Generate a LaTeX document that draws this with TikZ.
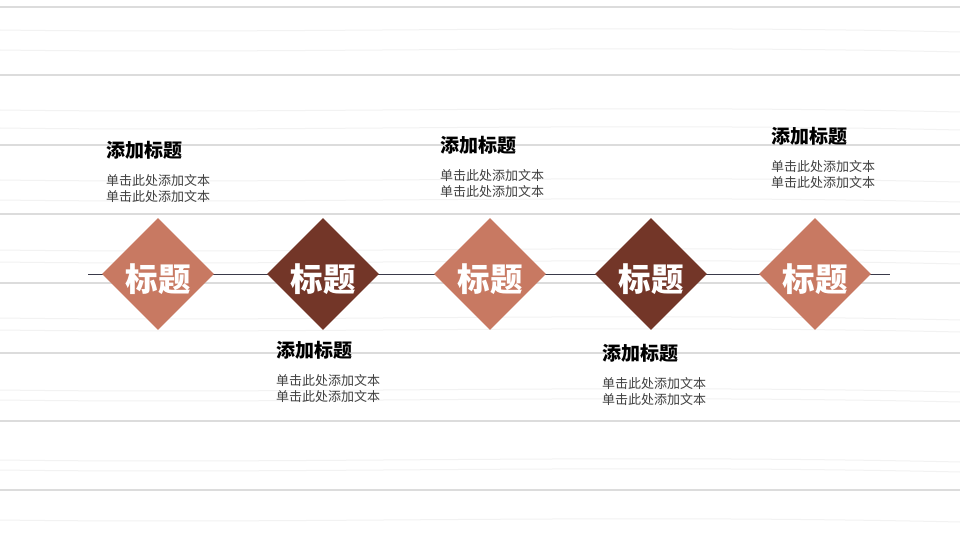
\documentclass[tikz,border=0pt]{standalone}
\usepackage{fontspec}
\setmainfont{Noto Sans CJK SC}
\usetikzlibrary{shapes.geometric}
\definecolor{lightd}{HTML}{C87962}
\definecolor{darkd}{HTML}{733628}
\definecolor{plank}{HTML}{DCDCDC}
\definecolor{grain}{HTML}{F2F2F2}
\definecolor{bodytxt}{HTML}{404040}
\definecolor{axis}{HTML}{3A3A4A}
\tikzset{
  diam/.style={diamond, minimum width=112pt, minimum height=112pt, inner sep=0pt, draw=none},
  dtxt/.style={inner sep=0pt, text=white, font=\fontsize{32.5}{33}\selectfont\bfseries},
  ttl/.style={anchor=west, inner sep=0pt, font=\fontsize{19}{20}\selectfont\bfseries, text=black},
  bdy/.style={anchor=north west, inner sep=0pt, align=left, text=bodytxt,
    font=\fontsize{13}{16}\selectfont},
  plankline/.style={plank, line width=1.6pt},
  grainline/.style={grain, line width=1pt},
  axisline/.style={axis, line width=0.8pt}
}
\begin{document}
\begin{tikzpicture}[x=1pt,y=-1pt]
\fill[white] (0,0) rectangle (960,540);
\useasboundingbox (0,0) rectangle (960,540);
% wood grain
\foreach \y in {30,50,110,128,180,200,250,262,318,330,390,400,460,470,520}
  \draw[grainline] (0,\y) .. controls (300,\y+4) and (600,\y-6) .. (960,\y+2);
\foreach \y in {7,75,145,214,283,353,421,490}
  \draw[plankline] (0,\y) -- (960,\y);
% axis
\coordinate (L) at (88,274);
\coordinate (R) at (890,274);
\draw[axisline] (L) -- (R);
% diamonds
\node[diam, fill=lightd] (d1) at (158,274) {};
\node[diam, fill=darkd] (d2) at (323,274) {};
\node[diam, fill=lightd] (d3) at (490,274) {};
\node[diam, fill=darkd] (d4) at (651,274) {};
\node[diam, fill=lightd] (d5) at (815,274) {};
\foreach \i in {1,...,5}
  \node[dtxt] (l\i) at ([yshift=-5pt]d\i.center) {标题};
% texts
\node[ttl] (t1) at (106,150) {添加标题};
\node[bdy] (b1) at (106,174) {单击此处添加文本\\单击此处添加文本};
\node[ttl] (t2) at (276,350) {添加标题};
\node[bdy] (b2) at (276,374) {单击此处添加文本\\单击此处添加文本};
\node[ttl] (t3) at (440,145) {添加标题};
\node[bdy] (b3) at (440,169) {单击此处添加文本\\单击此处添加文本};
\node[ttl] (t4) at (602,353) {添加标题};
\node[bdy] (b4) at (602,377) {单击此处添加文本\\单击此处添加文本};
\node[ttl] (t5) at (771,136) {添加标题};
\node[bdy] (b5) at (771,160) {单击此处添加文本\\单击此处添加文本};
\end{tikzpicture}
\end{document}
